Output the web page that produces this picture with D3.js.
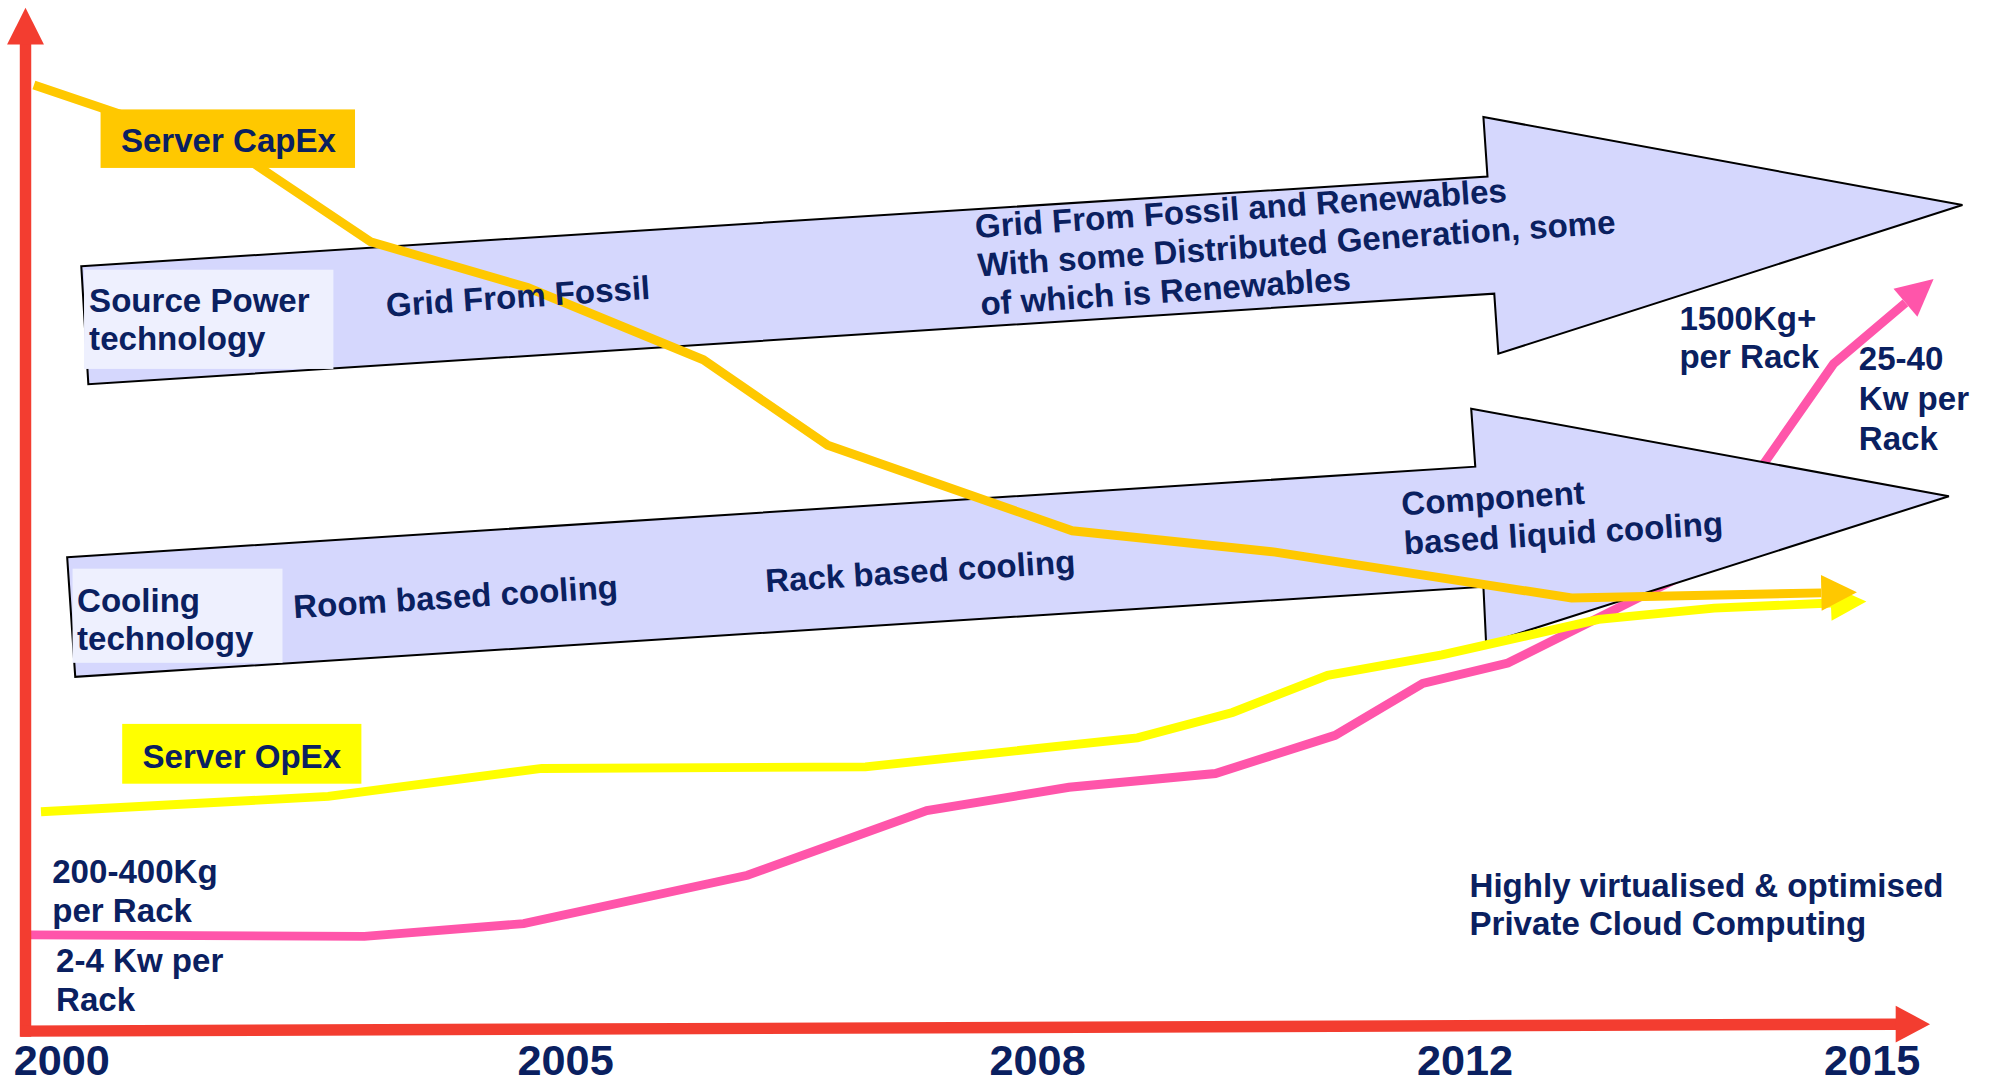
<!DOCTYPE html>
<html>
<head>
<meta charset="utf-8">
<script src="https://cdn.jsdelivr.net/npm/d3@7"></script>
<style>
  body { margin: 0; background: #fff; }
  svg { display: block; }
  text { font-family: "Liberation Sans", Arial, Helvetica, sans-serif; font-weight: bold; fill: #0a2060; }
</style>
</head>
<body>
<div id="chart"></div>
<script>
// timeline ticks
const years = [2000, 2005, 2008, 2012, 2015];

// Server CapEx (falling)
const capexYear  = [1999.73, 2001.79, 2003.07, 2004.63, 2005.88, 2006.67, 2008.33, 2010.23, 2012.79, 2014.63];
const capexValue = [92.4, 85.5, 77.0, 72.5, 65.4, 57.0, 48.6, 46.5, 42.0, 42.5];

// Server OpEx (rising slowly)
const opexYear  = [1999.80, 2002.65, 2004.77, 2006.91, 2008.94, 2009.83, 2010.72, 2011.79, 2012.99, 2013.84, 2014.70];
const opexValue = [21.0, 22.5, 25.25, 25.4, 28.25, 30.75, 34.4, 36.4, 39.9, 41.0, 41.5];

// rack weight / power density
const rackYear  = [1999.67, 2003.01, 2004.59, 2006.16, 2007.30, 2008.30, 2009.67, 2010.79, 2011.61, 2012.32, 2013.64, 2014.72, 2015.25];
const rackValue = [8.9, 8.75, 10.0, 14.75, 21.1, 23.4, 24.75, 28.5, 33.6, 35.6, 44.4, 65.0, 71.0];

// technology band arrows, as [year, value] outlines
const sourceArrowYear  = [2000.20, 2012.17, 2012.14, 2015.67, 2012.25, 2012.22, 2000.27];
const sourceArrowValue = [74.6, 83.4, 89.25, 80.6, 66.0, 71.9, 63.0];
const coolingArrowYear  = [2000.06, 2012.08, 2012.05, 2015.57, 2012.16, 2012.14, 2000.14];
const coolingArrowValue = [46.0, 54.9, 60.6, 52.0, 37.5, 43.1, 34.25];

const W = 1568, H = 854.4;

const svg = d3.select("#chart")
  .append("svg")
  .attr("width", 1995)
  .attr("height", 1087)
  .attr("viewBox", `0 0 ${W} ${H}`);

const x = d3.scaleLinear().domain(years).range([48, 444, 815, 1151, 1471]);
const y = d3.scaleLinear().domain([0, 100]).range([806, 6]);

const line = d3.line().x(d => x(d[0])).y(d => y(d[1]));

const defs = svg.append("defs");
function head(id, color, len, half) {
  defs.append("marker")
    .attr("id", id)
    .attr("markerUnits", "userSpaceOnUse")
    .attr("orient", "auto")
    .attr("refX", 0).attr("refY", 0)
    .attr("markerWidth", 60).attr("markerHeight", 60)
    .attr("overflow", "visible")
    .append("path")
    .attr("d", `M0,${-half}L${len},0L0,${half}Z`)
    .attr("fill", color);
}
head("h-capex", "#ffc800", 28, 14);
head("h-opex", "#ffff00", 28, 14);
head("h-rack", "#ff55aa", 29, 14.5);

function drawLine(xs, vs, color, marker) {
  svg.append("path")
    .attr("d", line(d3.zip(xs, vs)))
    .attr("fill", "none")
    .attr("stroke", color)
    .attr("stroke-width", 7)
    .attr("marker-end", `url(#${marker})`);
}

// pink line sits under the cooling arrow
drawLine(rackYear, rackValue, "#ff55aa", "h-rack");

function drawArrow(xs, vs) {
  svg.append("path")
    .attr("d", line(d3.zip(xs, vs)) + "Z")
    .attr("fill", "#d5d7fd")
    .attr("stroke", "#000")
    .attr("stroke-width", 1.6)
    .attr("stroke-linejoin", "miter");
}
drawArrow(sourceArrowYear, sourceArrowValue);
drawArrow(coolingArrowYear, coolingArrowValue);

// light label panels on the arrow tails
svg.append("rect").attr("x", 66).attr("y", 212).attr("width", 196).attr("height", 78).attr("fill", "#eef0fe");
svg.append("rect").attr("x", 57).attr("y", 447).attr("width", 165).attr("height", 74).attr("fill", "#eef0fe");

drawLine(opexYear, opexValue, "#ffff00", "h-opex");
drawLine(capexYear, capexValue, "#ffc800", "h-capex");

// series label boxes
svg.append("rect").attr("x", 79).attr("y", 86).attr("width", 200).attr("height", 46).attr("fill", "#ffc800");
svg.append("rect").attr("x", 96).attr("y", 569).attr("width", 188).attr("height", 47).attr("fill", "#ffff00");

function label(lines, px, py, size, gap, angle) {
  const t = svg.append("text")
    .attr("transform", `translate(${px},${py}) rotate(${angle || 0})`)
    .attr("font-size", size);
  lines.forEach((s, i) => {
    t.append("tspan").attr("x", 0).attr("y", i * gap).text(s);
  });
}

label(["Server CapEx"], 95, 119.5, 26, 0);
label(["Server OpEx"], 112, 604, 26, 0);
label(["Source Power", "technology"], 70, 245, 26, 30);
label(["Cooling", "technology"], 60.5, 481, 26, 30);
label(["Grid From Fossil"], 304, 249, 26, 0, -3.9);
label(["Grid From Fossil and Renewables", "With some Distributed Generation, some", "of which is Renewables"], 767, 187, 26, 30.5, -3.9);
label(["Room based cooling"], 231, 486, 26, 0, -3.6);
label(["Rack based cooling"], 602, 465.5, 26, 0, -3.6);
label(["Component", "based liquid cooling"], 1102, 405, 26, 31, -3.6);
label(["1500Kg+", "per Rack"], 1320, 259.5, 26, 30);
label(["25-40", "Kw per", "Rack"], 1461, 291, 26, 31.5);
label(["200-400Kg", "per Rack"], 41, 694, 26, 31);
label(["2-4 Kw per", "Rack"], 44, 764, 26, 31);
label(["Highly virtualised & optimised", "Private Cloud Computing"], 1155, 705, 26, 30);

// axes
const axisRed = "#f33d30";
svg.append("line").attr("x1", 20).attr("y1", 815).attr("x2", 20).attr("y2", 30)
  .attr("stroke", axisRed).attr("stroke-width", 9);
svg.append("path").attr("d", "M5.5,35L34.5,35L20,6Z").attr("fill", axisRed);
svg.append("line").attr("x1", 16).attr("y1", 810.5).attr("x2", 1492).attr("y2", 805)
  .attr("stroke", axisRed).attr("stroke-width", 9);
svg.append("path").attr("d", "M1490,790.5L1490,819.5L1517,805Z").attr("fill", axisRed);

const xAxis = svg.append("g")
  .attr("transform", "translate(0,845)")
  .call(d3.axisBottom(x).tickValues(years).tickFormat(d3.format("d")).tickSize(0).tickPadding(0));
xAxis.select(".domain").remove();
xAxis.selectAll("text")
  .attr("y", 0).attr("dy", 0)
  .attr("font-size", 34)
  .attr("font-family", "\"Liberation Sans\", Arial, sans-serif")
  .attr("font-weight", "bold")
  .attr("fill", "#0a2060");
</script>
</body>
</html>
